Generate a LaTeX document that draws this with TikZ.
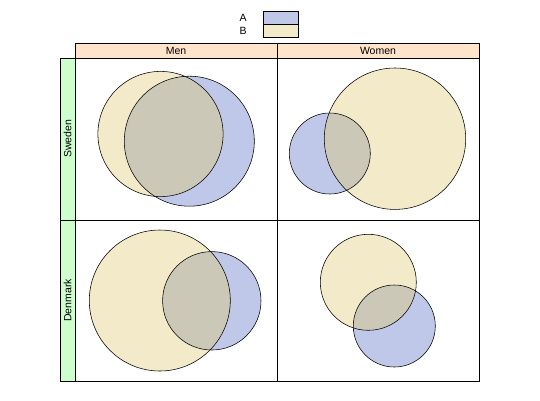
\documentclass[tikz,border=0pt]{standalone}
\usepackage{fontspec}
\setmainfont{Liberation Sans}
\begin{document}
\begin{tikzpicture}[x=1pt,y=-1pt,
  lbl/.style={font=\fontsize{10.5}{12}\selectfont, inner sep=0pt},
  frame/.style={draw=black, line width=0.6pt},
  circ/.style={draw=black, line width=0.55pt}]
\definecolor{colA}{HTML}{C0C8EA}
\definecolor{colB}{HTML}{F2EAC8}
\definecolor{colAB}{HTML}{CCC8B8}
\definecolor{stripTop}{HTML}{FFE4CC}
\definecolor{stripLeft}{HTML}{CCFFCC}
\useasboundingbox (0,0) rectangle (540,400);
% legend
\node[lbl] (la) at (243,18) {A};
\node[lbl] (lb) at (243,31) {B};
\filldraw[fill=colA, frame] (263,11) rectangle (298,24);
\filldraw[fill=colB, frame] (263,24) rectangle (298,37);
% strips
\filldraw[fill=stripTop, frame] (75,43) rectangle (479,58);
\draw[frame] (277,43) -- (277,58);
\node[lbl] (men) at (176,50.5) {Men};
\node[lbl] (women) at (378,50.5) {Women};
\filldraw[fill=stripLeft, frame] (60,58) rectangle (75,381);
\draw[frame] (60,220) -- (75,220);
\node[lbl, rotate=90] (sw) at (67.5,139) {Sweden};
\node[lbl, rotate=90] (dk) at (67.5,300.5) {Denmark};
% venn helper
\newcommand{\myvenn}[4]{%
  \fill[colA] (#1) circle (#2);
  \fill[colB] (#3) circle (#4);
  \begin{scope}
    \clip (#1) circle (#2);
    \fill[colAB] (#3) circle (#4);
  \end{scope}
  \draw[circ] (#1) circle (#2);
  \draw[circ] (#3) circle (#4);
}
\myvenn{189.3,141.2}{65}{160.5,134}{62.6}
\myvenn{329.8,153.5}{40.5}{395,138.7}{70.7}
\myvenn{211.8,300.8}{49.2}{159.8,300.5}{70.5}
\myvenn{394.3,326}{41}{368.3,282.3}{48}
% panels
\draw[frame] (75,58) rectangle (479,381);
\draw[frame] (277,58) -- (277,381);
\draw[frame] (75,220) -- (479,220);
\end{tikzpicture}
\end{document}
